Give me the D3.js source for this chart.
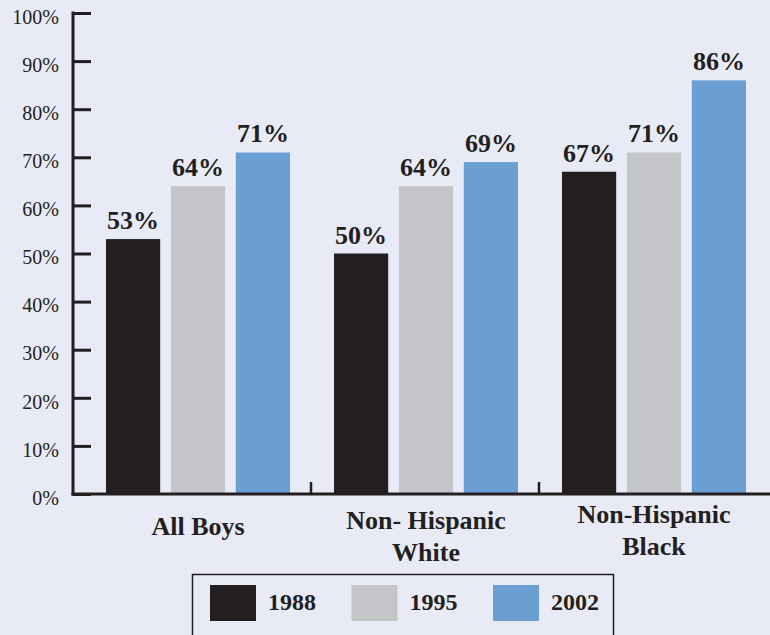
<!DOCTYPE html>
<html>
<head>
<meta charset="utf-8">
<script src="https://cdn.jsdelivr.net/npm/d3@7"></script>
<style>
  html, body { margin: 0; padding: 0; background: #e8ebf6; }
  svg { display: block; }
  svg text { font-family: "Liberation Serif", "Times New Roman", serif; }
</style>
</head>
<body>
<svg id="chart" width="770" height="635"></svg>
<script>
// Share of boys, by group and survey year
const categories = ["All Boys", "Non- Hispanic White", "Non-Hispanic Black"];
const categoryLines = [["All Boys"], ["Non- Hispanic", "White"], ["Non-Hispanic", "Black"]];
const years = ["1988", "1995", "2002"];
const values1988 = [53, 50, 67];
const values1995 = [64, 64, 71];
const values2002 = [71, 69, 86];
const yTicks = [0, 10, 20, 30, 40, 50, 60, 70, 80, 90, 100];

const seriesValues = [values1988, values1995, values2002];
const colors = ["#231f20", "#c4c5c9", "#6b9fd4"];
const ink = "#231f20";

const svg = d3.select("#chart");

const y = d3.scaleLinear().domain([0, 100]).range([494, 13]);
const x0 = d3.scaleBand().domain(categories).range([84, 768]);
const x1 = d3.scaleBand().domain(years).range([22, 206]).paddingInner(0.165);
const color = d3.scaleOrdinal().domain(years).range(colors);

// bars with value labels
const groups = svg.selectAll("g.group")
  .data(categories)
  .join("g")
  .attr("class", "group")
  .attr("transform", d => `translate(${x0(d)},0)`);

const rows = (ci) => years.map((yr, si) => ({ year: yr, value: seriesValues[si][ci] }));

groups.each(function (cat, ci) {
  const g = d3.select(this);
  const data = rows(ci);
  g.selectAll("rect")
    .data(data)
    .join("rect")
    .attr("x", d => x1(d.year))
    .attr("y", d => y(d.value))
    .attr("width", x1.bandwidth())
    .attr("height", d => y(0) - y(d.value))
    .attr("fill", d => color(d.year));
  g.selectAll("text.val")
    .data(data)
    .join("text")
    .attr("class", "val")
    .attr("x", d => x1(d.year) + x1.bandwidth() / 2)
    .attr("y", d => y(d.value) - 10)
    .attr("text-anchor", "middle")
    .style("font-weight", "bold")
    .style("font-size", "26px")
    .attr("fill", ink)
    .text(d => d.value + "%");
});

// y axis
const yAxis = d3.axisRight(y)
  .tickValues(yTicks)
  .tickSize(18)
  .tickFormat(d => d + "%");
const ya = svg.append("g").attr("transform", "translate(73,0)").call(yAxis);
ya.attr("font-family", null).attr("font-size", null);
ya.select(".domain").remove();
ya.selectAll(".tick line").attr("stroke", ink).attr("stroke-width", 3);
ya.selectAll(".tick text")
  .attr("x", -14)
  .attr("dy", "0.36em")
  .attr("transform", "translate(0,3)")
  .attr("text-anchor", "end")
  .style("font-size", "20px")
  .attr("fill", ink);
svg.append("line")
  .attr("x1", 73).attr("x2", 73)
  .attr("y1", y(100) - 1.5).attr("y2", y(0) + 1.5)
  .attr("stroke", ink).attr("stroke-width", 3);

// x axis baseline and group dividers
svg.append("line")
  .attr("x1", 71.5).attr("x2", 770)
  .attr("y1", y(0)).attr("y2", y(0))
  .attr("stroke", ink).attr("stroke-width", 3);
svg.selectAll("line.divider")
  .data(categories.slice(1))
  .join("line")
  .attr("class", "divider")
  .attr("x1", d => x0(d) - 1).attr("x2", d => x0(d) - 1)
  .attr("y1", y(0) - 12).attr("y2", y(0))
  .attr("stroke", ink).attr("stroke-width", 2.5);

// category labels
const labelBaseline = [535, 529, 523];
svg.selectAll("text.cat")
  .data(categories)
  .join("text")
  .attr("class", "cat")
  .attr("x", d => x0(d) + x0.bandwidth() / 2)
  .attr("y", (d, i) => labelBaseline[i])
  .attr("text-anchor", "middle")
  .style("font-weight", "bold")
  .style("font-size", "26px")
  .attr("fill", ink)
  .each(function (d, i) {
    d3.select(this).selectAll("tspan")
      .data(categoryLines[i])
      .join("tspan")
      .attr("x", x0(d) + x0.bandwidth() / 2)
      .attr("dy", (t, j) => j === 0 ? 0 : 32)
      .text(t => t);
  });

// legend
const legend = svg.append("g");
legend.append("rect")
  .attr("x", 192.5).attr("y", 574.5)
  .attr("width", 421).attr("height", 80)
  .attr("fill", "none")
  .attr("stroke", ink).attr("stroke-width", 1.5);
const legendX = d3.scalePoint().domain(years).range([210, 493]);
const items = legend.selectAll("g.item")
  .data(years)
  .join("g")
  .attr("class", "item")
  .attr("transform", d => `translate(${legendX(d)},585)`);
items.append("rect")
  .attr("width", 46).attr("height", 36)
  .attr("fill", d => color(d));
items.append("text")
  .attr("x", 58).attr("y", 25)
  .style("font-weight", "bold")
  .style("font-size", "24px")
  .attr("fill", ink)
  .text(d => d);
</script>
</body>
</html>
